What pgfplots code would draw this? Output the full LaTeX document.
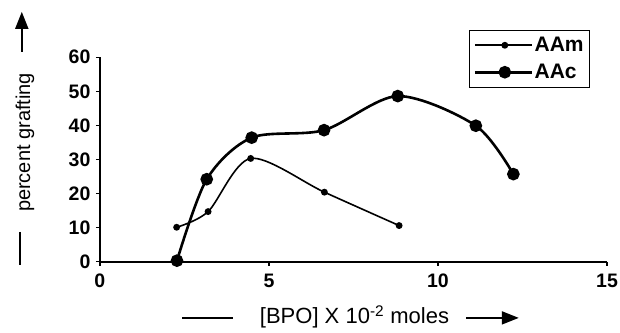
\documentclass[border=0pt]{standalone}
\usepackage{pgfplots}
\pgfplotsset{compat=1.18}
\usepackage{fontspec}
\setmainfont{Liberation Sans}
\usetikzlibrary{arrows.meta}

% percent grafting vs. initiator concentration
\pgfplotstableread{
x    y
2.27 10.1
3.20 14.7
4.46 30.3
6.64 20.4
8.85 10.6
}\aam
\pgfplotstableread{
x     y
2.28  0.3
3.16  24.2
4.49  36.4
6.63  38.6
8.81  48.6
11.12 39.9
12.23 25.7
}\aac

\begin{document}
\begin{tikzpicture}
\begin{axis}[
  scale only axis,
  width=507pt, height=204.4pt,
  xmin=0, xmax=15, ymin=0, ymax=60,
  axis lines*=left,
  axis line style={line width=1.8pt},
  xtick={0,5,10,15}, ytick={0,10,...,60},
  tick align=outside,
  major tick length=4pt,
  tick style={line width=1.4pt, black},
  /pgf/number format/assume math mode=true,
  ticklabel style={font=\fontsize{19.5}{22}\selectfont\bfseries},
  xticklabel style={yshift=-5pt},
  yticklabel style={xshift=-2pt},
  clip=false,
  legend style={at={(rel axis cs:0.728,1.134)}, anchor=north west,
    draw=black, line width=0.9pt, font=\fontsize{21}{24}\selectfont\bfseries,
    inner xsep=4pt, inner ysep=6pt, row sep=9pt,
    nodes={inner xsep=1.5pt, inner ysep=1pt}},
  legend cell align=left,
  legend image code/.code={
    \draw[#1] (0pt,0pt) -- (57pt,0pt);
    \draw[#1, only marks] plot coordinates {(30pt,0pt)};
  },
]
\addplot[black, line width=1.6pt, smooth, mark=*, mark size=2.6pt,
  mark options={solid}] table[x=x,y=y] {\aam};
\addlegendentry{AAm}
\addplot[black, line width=2.6pt, smooth, mark=*, mark size=5pt,
  mark options={solid}] table[x=x,y=y] {\aac};
\addlegendentry{AAc}

% axis titles with their arrows
\node[rotate=90, font=\fontsize{20}{24}\selectfont]
  at (rel axis cs:-0.148,0.583) {percent grafting};
\draw[line width=2pt, -{Stealth[length=17pt,width=13pt,inset=0pt]}]
  (rel axis cs:-0.154,1.026) -- (rel axis cs:-0.154,1.222);
\draw[line width=2pt] (rel axis cs:-0.158,0.146) -- (rel axis cs:-0.158,-0.016);

\draw[line width=1.6pt] (rel axis cs:0.162,-0.275) -- (rel axis cs:0.262,-0.275);
\node[font=\fontsize{22}{26}\selectfont]
  at (rel axis cs:0.502,-0.270) {[BPO] X 10\textsuperscript{-2} moles};
\draw[line width=2pt, -{Stealth[length=17pt,width=13pt,inset=0pt]}]
  (rel axis cs:0.722,-0.275) -- (rel axis cs:0.826,-0.275);

\coordinate (bl) at (rel axis cs:-0.197,-0.344);
\coordinate (tr) at (rel axis cs:1.0256,1.280);
\end{axis}
\pgfresetboundingbox
\path[use as bounding box] (bl) rectangle (tr);
\end{tikzpicture}
\end{document}
